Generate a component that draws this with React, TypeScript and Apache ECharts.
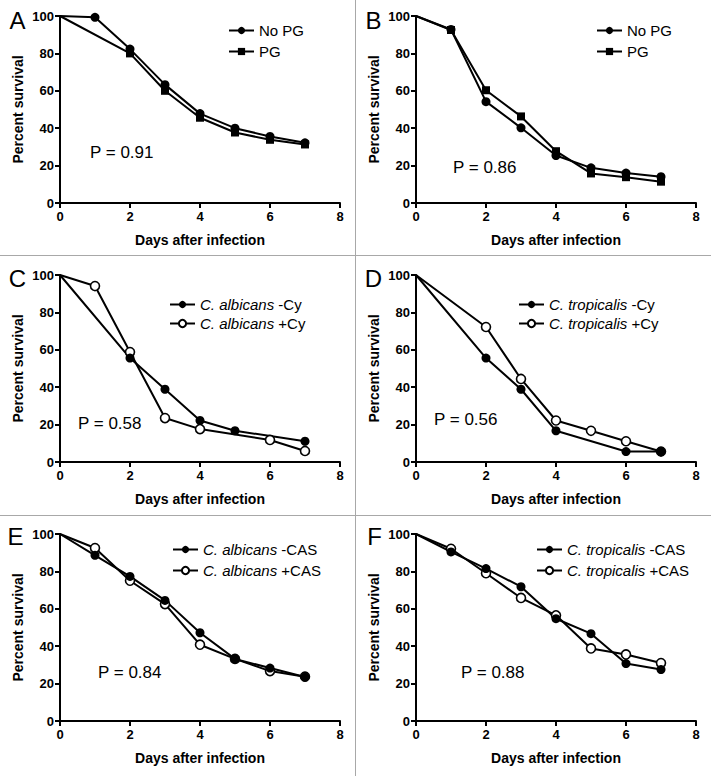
import React, { useEffect, useRef } from 'react';
import * as echarts from 'echarts';

const FONT = '"Liberation Sans", Arial, sans-serif';

// ---- data (day, percent survival) ----
const allDays = [0, 1, 2, 3, 4, 5, 6, 7];

// Panel A
const aNoPgDays = allDays;
const aNoPgVals = [100, 99.3, 82.3, 63.3, 47.8, 40.0, 35.6, 32.2];
const aPgDays = [0, 2, 3, 4, 5, 6, 7];
const aPgVals = [100, 80.0, 60.0, 45.6, 37.7, 33.8, 31.3];
// Panel B
const bNoPgDays = allDays;
const bNoPgVals = [100, 92.8, 54.2, 40.2, 25.4, 18.8, 16.0, 14.1];
const bPgDays = allDays;
const bPgVals = [100, 92.5, 60.3, 46.3, 27.7, 15.8, 13.8, 11.4];
// Panel C
const cMinusDays = [0, 2, 3, 4, 5, 7];
const cMinusVals = [100, 55.6, 38.9, 22.2, 16.7, 11.1];
const cPlusDays = [0, 1, 2, 3, 4, 6, 7];
const cPlusVals = [100, 94.1, 58.8, 23.5, 17.6, 11.8, 5.9];
// Panel D
const dMinusDays = [0, 2, 3, 4, 6, 7];
const dMinusVals = [100, 55.6, 38.9, 16.7, 5.6, 5.6];
const dPlusDays = [0, 2, 3, 4, 5, 6, 7];
const dPlusVals = [100, 72.2, 44.4, 22.2, 16.7, 11.1, 5.6];
// Panel E
const eMinusDays = allDays;
const eMinusVals = [100, 88.6, 77.3, 64.5, 47.2, 33.2, 28.3, 23.5];
const ePlusDays = allDays;
const ePlusVals = [100, 92.5, 75.0, 62.5, 40.8, 33.2, 26.7, 23.7];
// Panel F
const fMinusDays = allDays;
const fMinusVals = [100, 90.4, 81.5, 71.8, 54.7, 46.7, 30.7, 27.5];
const fPlusDays = allDays;
const fPlusVals = [100, 92.1, 79.0, 65.8, 56.5, 38.8, 35.6, 31.0];

const panelLetters = ['A', 'B', 'C', 'D', 'E', 'F'];
const pValues = ['P = 0.91', 'P = 0.86', 'P = 0.58', 'P = 0.56', 'P = 0.84', 'P = 0.88'];
const xTicks = { min: 0, max: 8, interval: 2 };
const yTicks = { min: 0, max: 100, interval: 20 };
const xTitle = 'Days after infection';
const yTitle = 'Percent survival';

type Kind = 'filled' | 'square' | 'open';
interface SeriesDef { name: string; days: number[]; vals: number[]; kind: Kind; }

const panelSeries: SeriesDef[][] = [
  [
    { name: 'No PG', days: aNoPgDays, vals: aNoPgVals, kind: 'filled' },
    { name: 'PG', days: aPgDays, vals: aPgVals, kind: 'square' },
  ],
  [
    { name: 'No PG', days: bNoPgDays, vals: bNoPgVals, kind: 'filled' },
    { name: 'PG', days: bPgDays, vals: bPgVals, kind: 'square' },
  ],
  [
    { name: 'C. albicans -Cy', days: cMinusDays, vals: cMinusVals, kind: 'filled' },
    { name: 'C. albicans +Cy', days: cPlusDays, vals: cPlusVals, kind: 'open' },
  ],
  [
    { name: 'C. tropicalis -Cy', days: dMinusDays, vals: dMinusVals, kind: 'filled' },
    { name: 'C. tropicalis +Cy', days: dPlusDays, vals: dPlusVals, kind: 'open' },
  ],
  [
    { name: 'C. albicans -CAS', days: eMinusDays, vals: eMinusVals, kind: 'filled' },
    { name: 'C. albicans +CAS', days: ePlusDays, vals: ePlusVals, kind: 'open' },
  ],
  [
    { name: 'C. tropicalis -CAS', days: fMinusDays, vals: fMinusVals, kind: 'filled' },
    { name: 'C. tropicalis +CAS', days: fPlusDays, vals: fPlusVals, kind: 'open' },
  ],
];

// ---- layout ----
const grids = [
  { left: 60, top: 16, width: 280, height: 187 },
  { left: 416, top: 16, width: 280, height: 187 },
  { left: 60, top: 275, width: 280, height: 187 },
  { left: 416, top: 275, width: 280, height: 187 },
  { left: 60, top: 534, width: 280, height: 187 },
  { left: 416, top: 534, width: 280, height: 187 },
];
const legendPos = [
  { left: 223, top: 18, gap: 6 },
  { left: 591, top: 18, gap: 6 },
  { left: 164, top: 292, gap: 4 },
  { left: 513, top: 292, gap: 4 },
  { left: 167, top: 537, gap: 6 },
  { left: 531, top: 537, gap: 6 },
];
const letterPos = [
  [17.5, 20], [373.5, 20], [17.5, 278], [373.5, 278], [15.5, 536], [374.5, 536],
];
const pPos = [
  [90, 152], [453, 167], [78, 423], [434, 419], [98, 672], [461, 672],
];

function buildOption() {
  const xAxis: any[] = [];
  const yAxis: any[] = [];
  const series: any[] = [];
  const legend: any[] = [];
  const axisLine = { show: true, lineStyle: { color: '#000', width: 2 } };
  const axisTick = { show: true, length: 5, inside: false, lineStyle: { color: '#000', width: 2 } };
  const axisLabelStyle = { color: '#000', fontFamily: FONT, fontSize: 13, fontWeight: 'bold' };
  const nameStyle = { color: '#000', fontFamily: FONT, fontSize: 14, fontWeight: 'bold' };

  grids.forEach((g, i) => {
    xAxis.push({
      type: 'value', gridIndex: i, ...xTicks,
      axisLine, axisTick, splitLine: { show: false },
      axisLabel: { ...axisLabelStyle, margin: 7 },
      name: xTitle, nameLocation: 'middle', nameGap: 30, nameTextStyle: nameStyle,
    });
    yAxis.push({
      type: 'value', gridIndex: i, ...yTicks,
      axisLine, axisTick, splitLine: { show: false },
      axisLabel: { ...axisLabelStyle, margin: 6 },
      name: yTitle, nameLocation: 'middle', nameGap: 35, nameTextStyle: nameStyle,
    });
    const defs = panelSeries[i];
    // draw open / square series first, filled on top
    const ordered = [...defs].reverse();
    ordered.forEach((s) => {
      series.push({
        type: 'line',
        name: s.name,
        xAxisIndex: i,
        yAxisIndex: i,
        data: s.days.map((d, k) => (d === 0 ? { value: [d, s.vals[k]], symbol: 'none' } : [d, s.vals[k]])),
        symbol: s.kind === 'square' ? 'rect' : 'circle',
        symbolSize: s.kind === 'square' ? 8 : 9,
        showSymbol: true,
        lineStyle: { color: '#000', width: 2 },
        itemStyle: s.kind === 'open'
          ? { color: '#fff', borderColor: '#000', borderWidth: 1.6 }
          : { color: '#000' },
        emphasis: { disabled: true },
        animation: false,
      });
    });
    const lp = legendPos[i];
    legend.push({
      orient: 'vertical',
      left: lp.left,
      top: lp.top,
      itemWidth: 25,
      itemHeight: 9,
      itemGap: lp.gap,
      selectedMode: false,
      data: defs.map((s) => s.name),
      formatter: (name: string) => {
        const m = name.match(/^(C\. \w+) (.*)$/);
        return m ? `{i|${m[1]}} ${m[2]}` : name;
      },
      textStyle: {
        color: '#000', fontFamily: FONT, fontSize: 15,
        rich: { i: { fontStyle: 'italic', color: '#000', fontFamily: FONT, fontSize: 15 } },
      },
    });
  });

  const graphic: any[] = [
    { type: 'line', silent: true, shape: { x1: 355.5, y1: 0, x2: 355.5, y2: 776 }, style: { stroke: '#a8a8a8', lineWidth: 1 } },
    { type: 'line', silent: true, shape: { x1: 0, y1: 255.5, x2: 711, y2: 255.5 }, style: { stroke: '#a8a8a8', lineWidth: 1 } },
    { type: 'line', silent: true, shape: { x1: 0, y1: 515.5, x2: 711, y2: 515.5 }, style: { stroke: '#a8a8a8', lineWidth: 1 } },
  ];
  panelLetters.forEach((t, i) => {
    graphic.push({
      type: 'text', x: letterPos[i][0], y: letterPos[i][1], silent: true,
      style: { text: t, fill: '#000', font: `24px ${FONT}`, textAlign: 'center', textVerticalAlign: 'middle' },
    });
  });
  pValues.forEach((t, i) => {
    graphic.push({
      type: 'text', x: pPos[i][0], y: pPos[i][1], silent: true,
      style: { text: t, fill: '#000', font: `17px ${FONT}`, textAlign: 'left', textVerticalAlign: 'middle' },
    });
  });

  return {
    animation: false,
    backgroundColor: '#fff',
    grid: grids.map((g) => ({ ...g, containLabel: false })),
    xAxis,
    yAxis,
    legend,
    series,
    graphic,
  };
}

export default function App() {
  const ref = useRef<HTMLDivElement>(null);
  useEffect(() => {
    document.body.style.margin = '0';
    if (!ref.current) return;
    const chart = echarts.init(ref.current, undefined, { renderer: 'svg' });
    chart.setOption(buildOption() as any);
    return () => chart.dispose();
  }, []);
  return <div ref={ref} style={{ width: 711, height: 776, position: 'absolute', left: 0, top: 0 }} />;
}
